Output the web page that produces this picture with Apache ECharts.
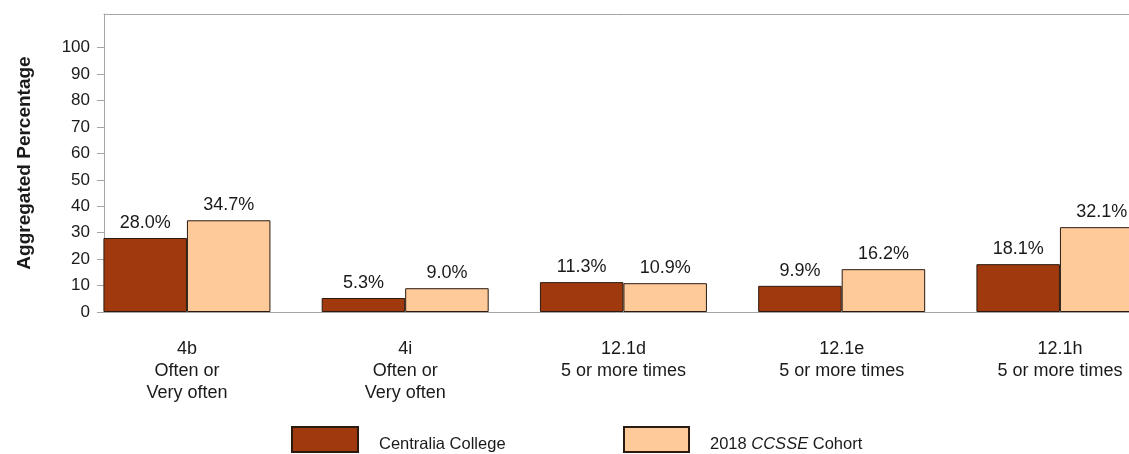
<!DOCTYPE html>
<html>
<head>
<meta charset="utf-8">
<script src="https://cdn.jsdelivr.net/npm/echarts@6/dist/echarts.min.js"></script>
<style>html,body{margin:0;padding:0;background:#fff}#c{width:1129px;height:454px}</style>
</head>
<body>
<div id="c"></div>
<script>
const categories = ['4b\nOften or\nVery often', '4i\nOften or\nVery often', '12.1d\n5 or more times', '12.1e\n5 or more times', '12.1h\n5 or more times'];
const college = [28.0, 5.3, 11.3, 9.9, 18.1];
const cohort = [34.7, 9.0, 10.9, 16.2, 32.1];
const yTicks = [0, 10, 20, 30, 40, 50, 60, 70, 80, 90, 100];
const seriesNames = ['Centralia College', '2018 CCSSE Cohort'];

const font = 'Liberation Sans, Arial, sans-serif';
const ink = '#1a1a1a';
const axisGrey = '#a6a6a6';
const chart = echarts.init(document.getElementById('c'));
const toPts = arr => arr.map((v, i) => [i, v]);
const lbl = {
  show: true, position: 'top', distance: 6,
  fontFamily: font, fontSize: 18, color: ink,
  formatter: p => p.value[1].toFixed(1) + '%'
};
const legendText = {
  fontFamily: font, fontSize: 16.5, color: ink, padding: [9, 0, 0, 16],
  rich: {
    n: { fontFamily: font, fontSize: 16.5, color: ink },
    i: { fontStyle: 'italic', fontFamily: font, fontSize: 16.5, color: ink }
  }
};
chart.setOption({
  animation: false,
  textStyle: { fontFamily: font },
  grid: { left: 104, top: 14, right: 0, height: 298, show: false },
  legend: [
    { data: [seriesNames[0]], left: 291, top: 426, itemWidth: 66, itemHeight: 25, icon: 'rect', padding: 0,
      formatter: () => '{n|Centralia College}',
      textStyle: legendText },
    { data: [seriesNames[1]], left: 623, top: 426, itemWidth: 65, itemHeight: 25, icon: 'rect', padding: 0,
      formatter: () => '{n|2018 }{i|CCSSE}{n| Cohort}',
      textStyle: legendText }
  ],
  xAxis: [{
    type: 'value', min: -0.38, max: 4.3165,
    axisLine: { show: true, onZero: false, lineStyle: { color: axisGrey } },
    axisTick: { show: false },
    splitLine: { show: false },
    axisLabel: {
      customValues: [0, 1, 2, 3, 4],
      formatter: v => categories[Math.round(v)],
      fontFamily: font, fontSize: 18, color: ink, lineHeight: 22, margin: 26
    }
  }, {
    type: 'value', position: 'top', min: -0.38, max: 4.3165,
    axisLine: { show: true, onZero: false, lineStyle: { color: axisGrey } },
    axisTick: { show: false }, axisLabel: { show: false }, splitLine: { show: false }
  }],
  yAxis: {
    type: 'value', min: 0, max: 112.75,
    name: 'Aggregated Percentage', nameLocation: 'middle', nameGap: 70, nameRotate: 90,
    nameTextStyle: { fontFamily: font, fontSize: 19, fontWeight: 'bold', color: ink },
    axisLine: { show: true, onZero: false, lineStyle: { color: axisGrey } },
    axisTick: { show: true, customValues: yTicks, length: 7, lineStyle: { color: axisGrey } },
    splitLine: { show: false },
    axisLabel: { customValues: yTicks, fontFamily: font, fontSize: 17, color: ink, margin: 14 }
  },
  series: [
    { name: seriesNames[0], type: 'bar', data: toPts(college), barWidth: 83.5, barGap: '0%',
      itemStyle: { color: '#A03A0E', borderColor: '#2a1a10', borderWidth: 1 }, label: lbl },
    { name: seriesNames[1], type: 'bar', data: toPts(cohort), barWidth: 83.5, barGap: '0%',
      itemStyle: { color: '#FECA99', borderColor: '#2a1a10', borderWidth: 1 }, label: lbl }
  ]
});
</script>
</body>
</html>
